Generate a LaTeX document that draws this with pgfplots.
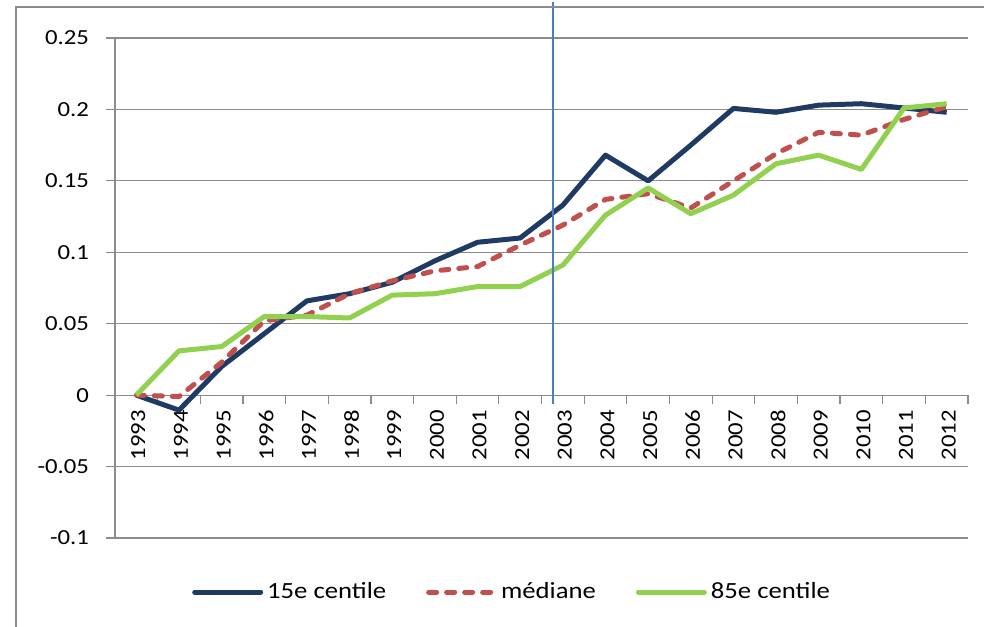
\documentclass[border=0pt]{standalone}
\usepackage{fontspec}
\setmainfont{Carlito}[FakeStretch=1.15]
\usepackage{pgfplots}
\pgfplotsset{compat=1.18}
\definecolor{c15}{HTML}{1F3B64}
\definecolor{cmed}{HTML}{C0504D}
\definecolor{c85}{HTML}{92D050}
\definecolor{gridgray}{HTML}{8C8C8C}
\definecolor{vblue}{HTML}{4A7EC0}
\begin{document}
\begin{tikzpicture}
\begin{axis}[
  at={(0,0)}, anchor=south west,
  scale only axis, width=426.5pt, height=250pt,
  xmin=-0.5, xmax=19.5, ymin=-0.1, ymax=0.25,
  axis x line=middle, axis y line=left,
  axis line style={draw=gridgray, line width=0.6pt, -},
  hide obscured x ticks=false, hide obscured y ticks=false,
  ytick={-0.1,-0.05,0,0.05,0.1,0.15,0.2,0.25},
  yticklabels={-0.1,-0.05,0,0.05,0.1,0.15,0.2,0.25},
  ymajorgrids, grid style={draw=gridgray, line width=0.6pt},
  xtick={-0.5,0.5,...,19.5}, xticklabels={},
  extra x ticks={0,1,2,3,4,5,6,7,8,9,10,11,12,13,14,15,16,17,18,19},
  extra x tick labels={1993,1994,1995,1996,1997,1998,1999,2000,2001,2002,2003,2004,2005,2006,2007,2008,2009,2010,2011,2012},
  extra x tick style={major tick length=0pt},
  tick align=outside, major tick length=4.5pt,
  tick style={draw=gridgray, line width=0.6pt},
  x tick label style={rotate=90, anchor=east, xshift=-4pt, yshift=-1pt},
  y tick label style={xshift=-5pt},
  tick label style={font=\fontsize{10.75}{13}\selectfont, text=black},
  clip=false, no markers,
  legend columns=3,
  legend style={at={(0.083,-0.108)}, anchor=west, draw=none, fill=none,
    font=\fontsize{11.6}{14}\selectfont,
    /tikz/every even column/.append style={column sep=18pt}},
  legend image code/.code={\draw[#1, line cap=round] (0pt,0pt) -- (33pt,0pt);},
]
\addplot[c15, line width=2.5pt, line join=round] coordinates {
(0,0) (1,-0.0105) (2,0.020) (3,0.043) (4,0.066) (5,0.071) (6,0.079) (7,0.094) (8,0.107) (9,0.110)
(10,0.133) (11,0.168) (12,0.150) (13,0.175) (14,0.2007) (15,0.198) (16,0.203) (17,0.204) (18,0.201) (19,0.198)};
\addlegendentry{15e centile}
\addplot[cmed, line width=2.5pt, line join=round, line cap=round, dash pattern=on 4pt off 5pt] coordinates {
(0,0) (1,-0.001) (2,0.023) (3,0.052) (4,0.056) (5,0.071) (6,0.080) (7,0.087) (8,0.090) (9,0.105)
(10,0.119) (11,0.137) (12,0.141) (13,0.131) (14,0.150) (15,0.169) (16,0.184) (17,0.182) (18,0.193) (19,0.202)};
\addlegendentry{médiane}
\addplot[c85, line width=2.5pt, line join=round] coordinates {
(0,0) (1,0.031) (2,0.034) (3,0.055) (4,0.055) (5,0.054) (6,0.070) (7,0.071) (8,0.076) (9,0.076)
(10,0.091) (11,0.126) (12,0.145) (13,0.127) (14,0.140) (15,0.162) (16,0.168) (17,0.158) (18,0.201) (19,0.204)};
\addlegendentry{85e centile}
\draw[vblue, line width=1pt] (axis cs:9.78,-0.0065) -- (axis cs:9.78,0.275);
\end{axis}
\draw[gridgray, line width=1pt] (-49.5pt,-60pt) -- (-49.5pt,265.5pt) -- (450pt,265.5pt);
\pgfresetboundingbox
\path[use as bounding box] (-57.5pt,-44pt) rectangle (434.5pt,269pt);
\end{tikzpicture}
\end{document}
